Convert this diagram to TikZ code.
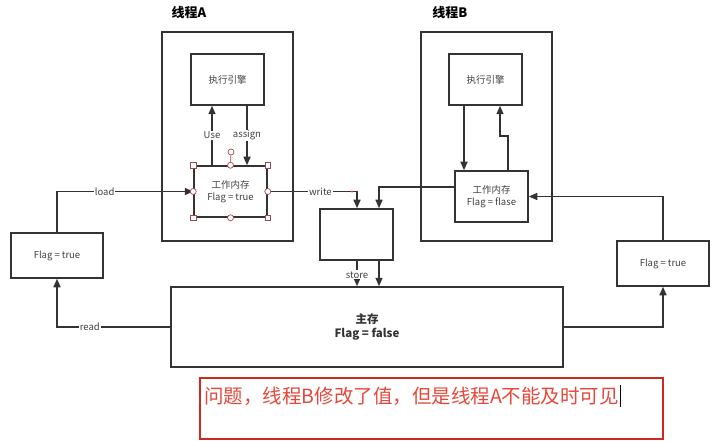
\documentclass[tikz,border=0pt]{standalone}
\usepackage{fontspec}
\setmainfont{Noto Sans CJK SC}
\usetikzlibrary{arrows.meta}
\definecolor{ln}{HTML}{333333}
\definecolor{tx}{HTML}{404040}
\definecolor{hd}{HTML}{A0484C}
\definecolor{redtx}{HTML}{E5483A}
\definecolor{redbd}{HTML}{CC2A1E}
\tikzset{
  box/.style={draw=ln, line width=1.5pt, fill=white, inner sep=0pt, text=tx,
    font=\fontsize{9.5}{12}\selectfont, align=center},
  arr/.style={draw=ln, line width=1.5pt, -{Triangle[length=8.5pt,width=7pt]}},
  lnk/.style={draw=ln, line width=1.5pt},
  lbl/.style={fill=white, inner sep=1pt, text=tx, font=\fontsize{9.5}{11}\selectfont},
  ttl/.style={font=\fontsize{13}{15}\selectfont\bfseries, text=black},
  hsq/.style={draw=hd, fill=white, line width=0.7pt, minimum size=5.5pt, inner sep=0pt},
  hci/.style={draw=hd, fill=white, line width=0.7pt, circle, minimum size=6pt, inner sep=0pt}
}
\begin{document}
\begin{tikzpicture}[x=1pt,y=-1pt]
\useasboundingbox (0,0) rectangle (713,441);
\fill[white] (0,0) rectangle (713,441);
% thread frames
\node[box, minimum width=131pt, minimum height=209pt] (TA) at (227.5,136.5) {};
\node[box, minimum width=131pt, minimum height=209pt] (TB) at (486.5,136.5) {};
\node[ttl] (TAt) at (189,13) {线程A};
\node[ttl] (TBt) at (450,13) {线程B};
% inner boxes
\node[box, minimum width=73pt, minimum height=51pt] (EA) at (227.5,79.5) {执行引擎};
\node[box, minimum width=73pt, minimum height=51pt] (WA) at (230.5,191.5) {工作内存\\Flag = true};
\node[box, minimum width=73pt, minimum height=51pt] (EB) at (485.5,79.5) {执行引擎};
\node[box, minimum width=73pt, minimum height=51pt] (WB) at (491.5,196.5) {工作内存\\Flag = flase};
\node[box, minimum width=92pt, minimum height=45pt] (LF) at (57,255.5) {Flag = true};
\node[box, minimum width=92pt, minimum height=45pt] (RF) at (663,263.5) {Flag = true};
\node[box, minimum width=73pt, minimum height=51pt] (MB) at (356.5,234.5) {};
\node[box, minimum width=392pt, minimum height=80pt, text=ln,
  font=\fontsize{11.5}{14}\selectfont\bfseries] (MM) at (367,327) {主存\\Flag = false};
% thread A inner arrows
\draw[arr] ([xshift=-18.5pt]WA.north) -- node[lbl, pos=0.5] {Use} ([xshift=-15.5pt]EA.south);
\draw[arr] ([xshift=19.5pt]EA.south) -- node[lbl, pos=0.5] {assign} ([xshift=16.5pt]WA.north);
% thread B inner arrows
\draw[arr] ([xshift=-21.5pt]EB.south) -- ([xshift=-27.5pt]WB.north);
\draw[arr] ([xshift=16.5pt]WB.north) -- ++(0,-34) -| ([xshift=14.5pt]EB.south);
% load / read
\draw[arr] (LF.north) |- node[lbl, pos=0.675] {load} (WA.west);
\draw[arr] (MM.west) -| node[lbl, pos=0.355] {read} (LF.south);
% write
\draw[arr] (WA.east) -| node[lbl, pos=0.295] {write} ([xshift=0.5pt]MB.north);
\draw[arr] ([yshift=9.5pt]WB.west) -| ([xshift=22.5pt]MB.north);
% store
\draw[arr] ([xshift=0.5pt]MB.south) -- node[lbl, pos=0.55] {store} ([xshift=-10pt]MM.north);
\draw[arr] ([xshift=22.5pt]MB.south) -- ([xshift=12pt]MM.north);
% right side
\draw[arr] (MM.east) -| (RF.south);
\draw[arr] (RF.north) |- (WB.east);
% selection handles on WA
\coordinate (rot) at (231,152);
\draw[hd, line width=0.7pt] (WA.north) -- (rot);
\node[hci] (h0) at (rot) {};
\node[hsq] (h1) at (WA.north west) {};
\node[hsq] (h2) at (WA.north east) {};
\node[hsq] (h3) at (WA.south west) {};
\node[hsq] (h4) at (WA.south east) {};
\node[hci] (h5) at (WA.north) {};
\node[hci] (h6) at (WA.south) {};
\node[hci] (h7) at (WA.west) {};
\node[hci] (h8) at (WA.east) {};
\fill[red!80] (352,191.5) circle (1.2pt);
% bottom note
\node[draw=redbd, line width=1.2pt, minimum width=463pt, minimum height=61pt, inner sep=0pt] (NB) at (431.5,408.5) {};
\node[anchor=west, inner sep=0pt, text=redtx, font=\fontsize{19.5}{22}\selectfont] (NT) at (204,396) {问题，线程B修改了值，但是线程A不能及时可见};
\draw[black, line width=0.8pt] ([xshift=1.5pt,yshift=-11pt]NT.east) -- ([xshift=1.5pt,yshift=11pt]NT.east);
\end{tikzpicture}
\end{document}
